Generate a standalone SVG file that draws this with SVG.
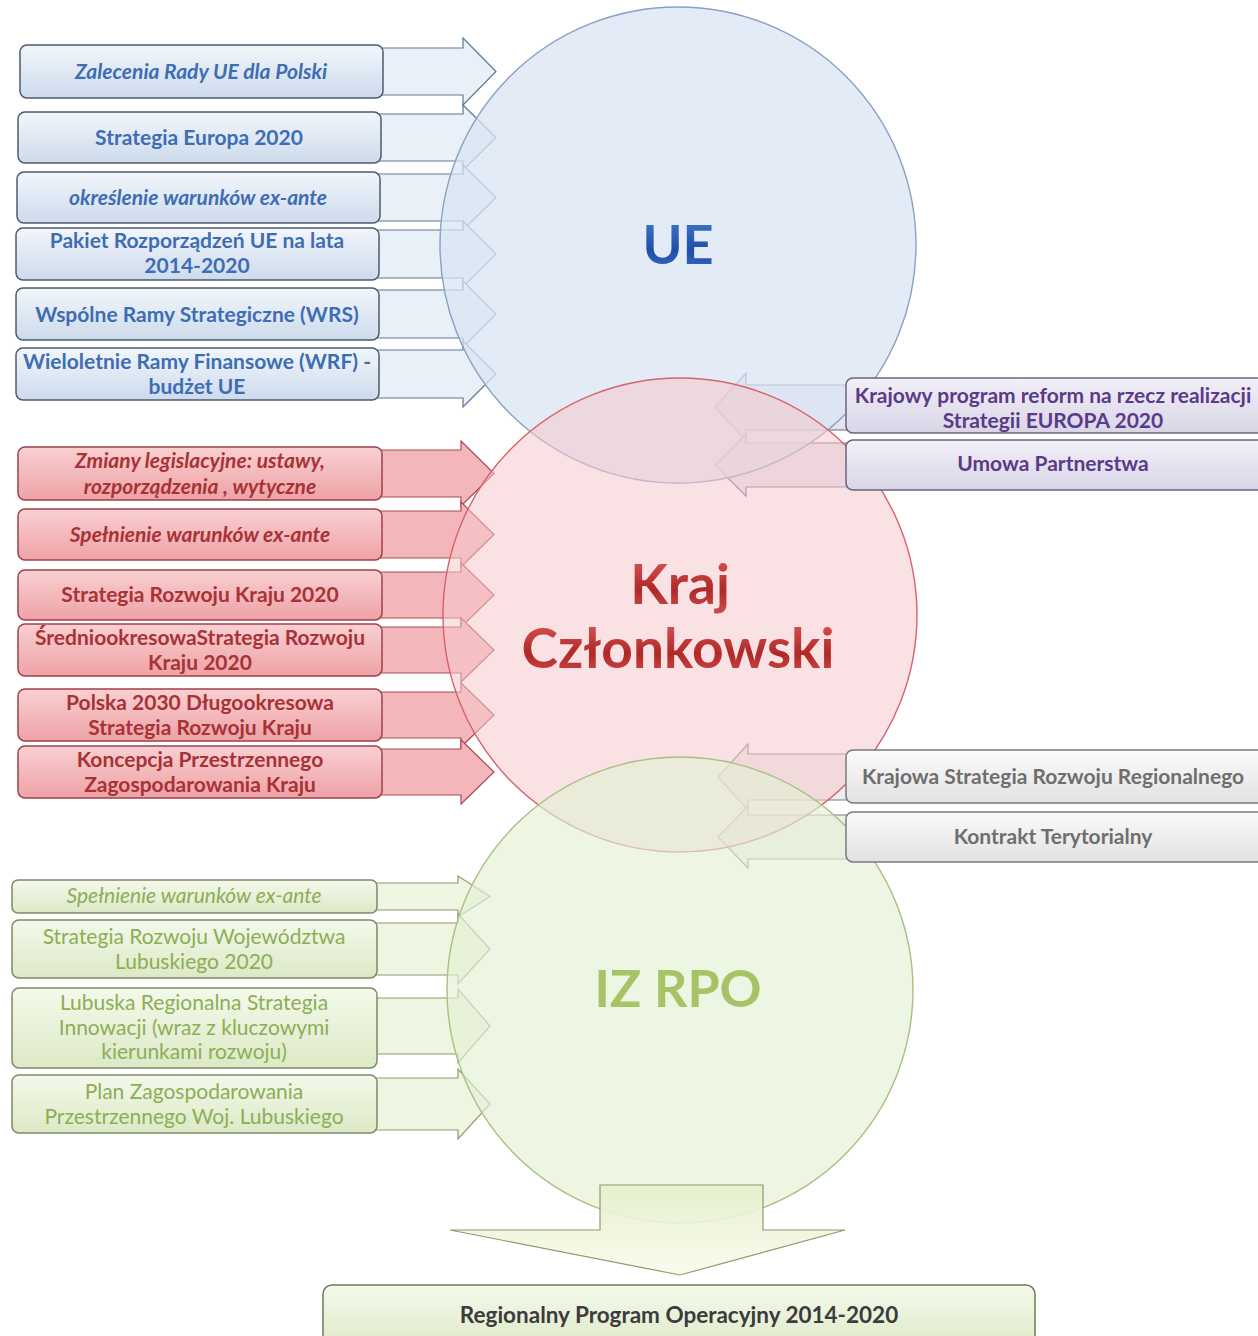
<svg xmlns="http://www.w3.org/2000/svg" width="1258" height="1336" viewBox="0 0 1258 1336">
<defs>
<linearGradient id="gBlue" x1="0" y1="0" x2="0" y2="1"><stop offset="0" stop-color="#f2f6fb"/><stop offset="1" stop-color="#cddbec"/></linearGradient>
<linearGradient id="gRed" x1="0" y1="0" x2="0" y2="1"><stop offset="0" stop-color="#f9d0d2"/><stop offset="1" stop-color="#eea2a6"/></linearGradient>
<linearGradient id="gGreen" x1="0" y1="0" x2="0" y2="1"><stop offset="0" stop-color="#f4f9ea"/><stop offset="1" stop-color="#dce9c6"/></linearGradient>
<linearGradient id="gPurple" x1="0" y1="0" x2="0" y2="1"><stop offset="0" stop-color="#f2f0f8"/><stop offset="1" stop-color="#d9d5e7"/></linearGradient>
<linearGradient id="gGray" x1="0" y1="0" x2="0" y2="1"><stop offset="0" stop-color="#fbfbfb"/><stop offset="1" stop-color="#e2e2e2"/></linearGradient>
<linearGradient id="gDown" x1="0" y1="0" x2="0" y2="1"><stop offset="0" stop-color="#e6efcc"/><stop offset="1" stop-color="#f8fbec"/></linearGradient>
<linearGradient id="gUEtxt" x1="0" y1="0" x2="0" y2="1"><stop offset="0" stop-color="#4a80d0"/><stop offset="0.6" stop-color="#1f4ea8"/><stop offset="1" stop-color="#3a6cc0"/></linearGradient>
<linearGradient id="gKtxt" x1="0" y1="0" x2="0" y2="1"><stop offset="0" stop-color="#e06060"/><stop offset="0.6" stop-color="#b02828"/><stop offset="1" stop-color="#d05050"/></linearGradient>
</defs>
<style>
.t{font-family:Lato,"Open Sans","Liberation Sans",sans-serif;font-size:21px;font-weight:bold;text-anchor:middle}
.i{font-style:italic}
.bb{fill:url(#gBlue);stroke:#4d5b6e;stroke-width:1.5}
.rb{fill:url(#gRed);stroke:#a0404a;stroke-width:1.5}
.gb{fill:url(#gGreen);stroke:#7c8a66;stroke-width:1.5}
.pb{fill:url(#gPurple);stroke:#6a6482;stroke-width:1.5}
.yb{fill:url(#gGray);stroke:#7a7a7a;stroke-width:1.5}
.fb{fill:url(#gGreen);stroke:#6d7c52;stroke-width:1.5}
.ba{fill:#e9f0f8;stroke:#5f7894;stroke-width:1.2}
.ra{fill:#f3b6ba;stroke:#a84c55;stroke-width:1.2}
.ga{fill:#eef5e1;stroke:#8c9c70;stroke-width:1.2}
.pa{fill:#e6e2ef;stroke:#6c6288;stroke-width:1.2}
.ya{fill:#eeeeee;stroke:#7c7c7c;stroke-width:1.2}
.bt{fill:#3e6db4}
.rt{fill:#a83236}
.gt{fill:#8cae56;font-weight:normal}
.pt{fill:#5a3a8a}
.yt{fill:#6e6e6e}
.ft{fill:#3c3c3c;font-size:22.5px}
.big{font-family:Lato,"Open Sans","Liberation Sans",sans-serif;font-weight:bold;text-anchor:middle}
</style>
<rect width="1258" height="1336" fill="#ffffff"/>

<g id="connectors">
<path class="ba" d="M376,48 L463,48 L463,38 L496,71.5 L463,105 L463,95 L376,95 Z"/>
<path class="ba" d="M376,114 L463,114 L463,105 L496,137.5 L463,170 L463,161 L376,161 Z"/>
<path class="ba" d="M376,174 L463,174 L463,165 L496,197.5 L463,230 L463,221 L376,221 Z"/>
<path class="ba" d="M376,230 L463,230 L463,221 L496,254 L463,287 L463,278 L376,278 Z"/>
<path class="ba" d="M376,290 L463,290 L463,281 L496,314 L463,347 L463,338 L376,338 Z"/>
<path class="ba" d="M376,350 L463,350 L463,341 L496,374 L463,407 L463,398 L376,398 Z"/>
<path class="ra" d="M377,450 L461,450 L461,441 L494,473.5 L461,506 L461,497 L377,497 Z"/>
<path class="ra" d="M377,511 L461,511 L461,502 L494,534.5 L461,567 L461,558 L377,558 Z"/>
<path class="ra" d="M377,572 L461,572 L461,563 L494,595 L461,627 L461,618 L377,618 Z"/>
<path class="ra" d="M377,627 L461,627 L461,618 L494,650 L461,682 L461,673 L377,673 Z"/>
<path class="ra" d="M377,692 L461,692 L461,683 L494,715 L461,747 L461,738 L377,738 Z"/>
<path class="ra" d="M377,749 L461,749 L461,740 L494,772 L461,804 L461,795 L377,795 Z"/>
<path class="ga" d="M372,883 L458,883 L458,876 L490,896.5 L458,917 L458,910 L372,910 Z"/>
<path class="ga" d="M372,923 L458,923 L458,914 L490,949 L458,984 L458,975 L372,975 Z"/>
<path class="ga" d="M372,998 L458,998 L458,989 L490,1026 L458,1063 L458,1054 L372,1054 Z"/>
<path class="ga" d="M372,1078 L458,1078 L458,1069 L490,1104 L458,1139 L458,1130 L372,1130 Z"/>
<path class="pa" d="M852,385 L746,385 L746,373 L715,407 L746,441 L746,430 L852,430 Z"/>
<path class="pa" d="M852,443 L746,443 L746,434 L715,465 L746,496 L746,487 L852,487 Z"/>
<path class="ya" d="M852,754 L748,754 L748,744 L718,777 L748,810 L748,800 L852,800 Z"/>
<path class="ya" d="M852,815 L748,815 L748,806 L718,837 L748,868 L748,859 L852,859 Z"/>
</g>

<g id="circles">
<g id="ue"><circle cx="678" cy="245" r="238" fill="#d9e4f3" fill-opacity="0.75" stroke="#8aa0c4" stroke-width="1.4"/></g>
<g id="kraj"><circle cx="680" cy="615" r="237" fill="#f6c9cc" fill-opacity="0.55" stroke="#d86268" stroke-width="1.4"/></g>
<g id="izrpo"><circle cx="680" cy="990" r="233" fill="#e3efd4" fill-opacity="0.65" stroke="#a8c080" stroke-width="1.4"/></g>
</g>

<g id="connector-down">
<path d="M600,1185 L763,1185 L763,1230 L845,1230 L680,1275 L450,1230 L600,1230 Z" fill="url(#gDown)" fill-opacity="0.9" stroke="#8c9c6c" stroke-width="1.2"/>
</g>

<g id="labels-big">
<text class="big" x="678" y="264" font-size="54" fill="url(#gUEtxt)">UE</text>
<text class="big" x="680" y="604" font-size="55" fill="url(#gKtxt)">Kraj</text>
<text class="big" x="678" y="668" font-size="55" fill="url(#gKtxt)">Członkowski</text>
<text class="big" x="678" y="1007" font-size="52" fill="#a6c466">IZ RPO</text>
</g>

<g id="n-blue1"><rect class="bb" x="20" y="45" width="363" height="53" rx="7"/><text class="t i bt" x="201" y="79">Zalecenia Rady UE dla Polski</text></g>
<g id="n-blue2"><rect class="bb" x="18" y="112" width="363" height="51" rx="7"/><text class="t bt" x="199" y="145">Strategia Europa 2020</text></g>
<g id="n-blue3"><rect class="bb" x="17" y="172" width="363" height="51" rx="7"/><text class="t i bt" x="198" y="205">określenie warunków ex-ante</text></g>
<g id="n-blue4"><rect class="bb" x="16" y="228" width="363" height="52" rx="7"/><text class="t bt" x="197" y="248">Pakiet Rozporządzeń UE  na lata</text><text class="t bt" x="197" y="273">2014-2020</text></g>
<g id="n-blue5"><rect class="bb" x="16" y="288" width="363" height="52" rx="7"/><text class="t bt" x="197" y="322">Wspólne Ramy Strategiczne (WRS)</text></g>
<g id="n-blue6"><rect class="bb" x="16" y="348" width="363" height="52" rx="7"/><text class="t bt" x="197" y="369">Wieloletnie Ramy Finansowe (WRF) -</text><text class="t bt" x="197" y="394">budżet UE</text></g>

<g id="n-red1"><rect class="rb" x="18" y="447" width="364" height="53" rx="7"/><text class="t i rt" x="200" y="468">Zmiany legislacyjne: ustawy,</text><text class="t i rt" x="200" y="494">rozporządzenia , wytyczne</text></g>
<g id="n-red2"><rect class="rb" x="18" y="509" width="364" height="51" rx="7"/><text class="t i rt" x="200" y="542">Spełnienie warunków ex-ante</text></g>
<g id="n-red3"><rect class="rb" x="18" y="570" width="364" height="50" rx="7"/><text class="t rt" x="200" y="602">Strategia Rozwoju  Kraju 2020</text></g>
<g id="n-red4"><rect class="rb" x="18" y="624" width="364" height="52" rx="7"/><text class="t rt" x="200" y="645">ŚredniookresowaStrategia Rozwoju</text><text class="t rt" x="200" y="670">Kraju 2020</text></g>
<g id="n-red5"><rect class="rb" x="18" y="689" width="364" height="52" rx="7"/><text class="t rt" x="200" y="710">Polska 2030 Długookresowa</text><text class="t rt" x="200" y="735">Strategia Rozwoju  Kraju</text></g>
<g id="n-red6"><rect class="rb" x="18" y="746" width="364" height="52" rx="7"/><text class="t rt" x="200" y="767">Koncepcja Przestrzennego</text><text class="t rt" x="200" y="792">Zagospodarowania  Kraju</text></g>

<g id="n-green1"><rect class="gb" x="12" y="880" width="365" height="33" rx="6"/><text class="t i gt" x="194" y="903">Spełnienie warunków ex-ante</text></g>
<g id="n-green2"><rect class="gb" x="12" y="920" width="365" height="58" rx="7"/><text class="t gt" x="194" y="944">Strategia Rozwoju  Województwa</text><text class="t gt" x="194" y="969">Lubuskiego 2020</text></g>
<g id="n-green3"><rect class="gb" x="12" y="988" width="365" height="80" rx="7"/><text class="t gt" x="194" y="1010">Lubuska Regionalna Strategia</text><text class="t gt" x="194" y="1035">Innowacji (wraz z kluczowymi</text><text class="t gt" x="194" y="1059">kierunkami rozwoju)</text></g>
<g id="n-green4"><rect class="gb" x="12" y="1075" width="365" height="58" rx="7"/><text class="t gt" x="194" y="1099">Plan Zagospodarowania</text><text class="t gt" x="194" y="1124">Przestrzennego Woj. Lubuskiego</text></g>

<g id="n-purple1"><rect class="pb" x="846" y="378" width="420" height="55" rx="7"/><text class="t pt" x="1053" y="403">Krajowy program reform na rzecz realizacji</text><text class="t pt" x="1053" y="428">Strategii EUROPA 2020</text></g>
<g id="n-purple2"><rect class="pb" x="846" y="440" width="420" height="50" rx="7"/><text class="t pt" x="1053" y="471">Umowa Partnerstwa</text></g>

<g id="n-gray1"><rect class="yb" x="846" y="750" width="420" height="53" rx="7"/><text class="t yt" x="1053" y="784">Krajowa Strategia  Rozwoju  Regionalnego</text></g>
<g id="n-gray2"><rect class="yb" x="846" y="812" width="420" height="50" rx="7"/><text class="t yt" x="1053" y="844">Kontrakt Terytorialny</text></g>

<g id="n-rpo"><rect class="fb" x="323" y="1285" width="712" height="70" rx="9"/><text class="t ft" x="679" y="1323">Regionalny Program Operacyjny 2014-2020</text></g>
</svg>
